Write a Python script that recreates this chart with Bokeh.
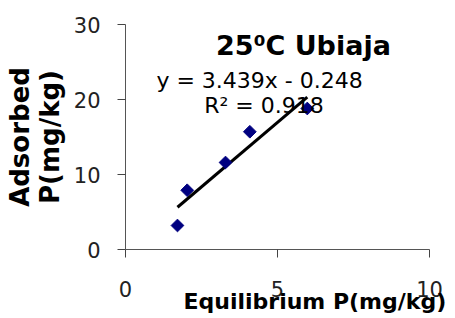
import numpy as np
from bokeh.plotting import figure
from bokeh.models import Label, Range1d, FixedTicker, Title, AllLabels
from bokeh.embed import file_html
from bokeh.resources import INLINE

# Data
eq_p = [1.71, 2.03, 3.29, 4.09, 5.98]       # Equilibrium P (mg/kg)
ads_p = [3.2, 7.9, 11.6, 15.7, 18.8]        # Adsorbed P (mg/kg)
slope = 3.439
intercept = -0.248
r2 = 0.918
x_ticks = [0, 5, 10]
y_ticks = [0, 10, 20, 30]
title_text = "25\u2070C Ubiaja"
x_title = "Equilibrium P(mg/kg)"
y_title = "Adsorbed\nP(mg/kg)"

FONT = "DejaVu Sans"

p = figure(frame_width=304, frame_height=225,
           min_border_left=125, min_border_right=26,
           min_border_top=24, min_border_bottom=69,
           x_range=Range1d(0, 10), y_range=Range1d(0, 30),
           output_backend="svg", toolbar_location=None,
           background_fill_color="white", border_fill_color="white")
p.outline_line_color = None
p.grid.visible = False

for ax in (p.xaxis[0], p.yaxis[0]):
    ax.axis_line_color = "#555555"
    ax.axis_line_width = 1
    ax.major_tick_line_color = "#444444"
    ax.major_tick_out = 8
    ax.major_tick_in = 0
    ax.minor_tick_out = 0
    ax.minor_tick_in = 0
    ax.major_label_text_font = FONT
    ax.major_label_text_font_size = "21px"
    ax.major_label_text_color = "#222222"
    ax.major_label_policy = AllLabels()

p.xaxis[0].ticker = FixedTicker(ticks=x_ticks)
p.yaxis[0].ticker = FixedTicker(ticks=y_ticks)
p.xaxis[0].major_label_standoff = 23
p.yaxis[0].major_label_standoff = 17

# y axis title (two lines)
p.yaxis[0].axis_label = y_title
p.yaxis[0].axis_label_text_font = FONT
p.yaxis[0].axis_label_text_font_style = "bold"
p.yaxis[0].axis_label_text_font_size = "26px"
p.yaxis[0].axis_label_text_color = "black"
p.yaxis[0].axis_label_text_line_height = 1.0
p.yaxis[0].axis_label_standoff = 6

# x axis title: placed below the axis, shifted right and pulled up over the tick labels
p.add_layout(Title(text=x_title, align="left", offset=58, standoff=-26,
                   vertical_align="bottom", text_font=FONT, text_font_style="bold",
                   text_font_size="22px", text_color="black",
                   background_fill_color=None, border_line_color=None), "below")

# trendline
xs_fit = np.array([min(eq_p), max(eq_p)])
p.line(xs_fit, slope * xs_fit + intercept, line_color="black", line_width=3)

# points
p.scatter(eq_p, ads_p, marker="square", angle=np.pi / 4, size=9,
          fill_color="#000080", line_color="#000080")

# title
p.add_layout(Label(x=5.855, y=27.2, text=title_text, text_align="center",
                   text_baseline="alphabetic", text_font=FONT,
                   text_font_style="bold", text_font_size="27px", text_color="black"))
# equation
p.add_layout(Label(x=4.41, y=22.53, text=f"y = {slope:.3f}x - {abs(intercept):.3f}",
                   text_align="center", text_baseline="alphabetic",
                   text_font=FONT, text_font_size="22px", text_color="black"))
p.add_layout(Label(x=4.556, y=19.2, text=f"R\u00b2 = {r2:.3f}",
                   text_align="center", text_baseline="alphabetic",
                   text_font=FONT, text_font_size="22px", text_color="black"))

open("out.html", "w").write(file_html(p, INLINE))
